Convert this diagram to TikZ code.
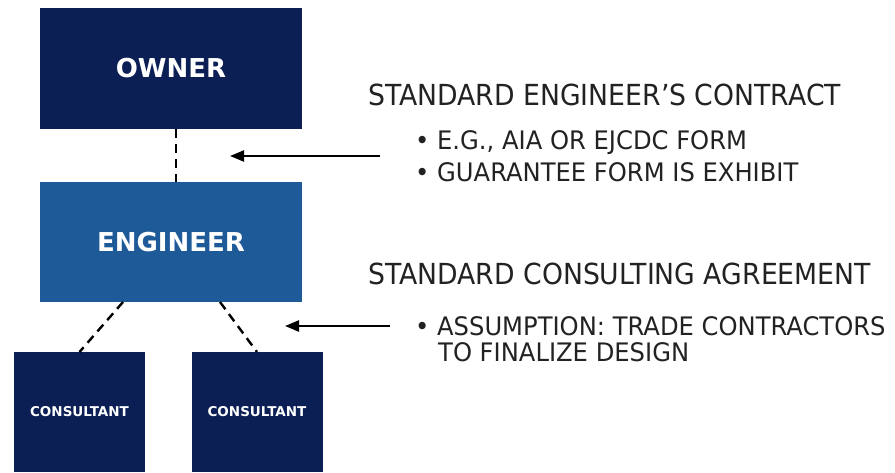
\documentclass[tikz,border=0pt]{standalone}
\usepackage{fontspec}
\setmainfont{DejaVu Sans}
\newfontfamily\notefont[FakeStretch=0.92]{DejaVu Sans}
\newfontfamily\itemfont[FakeStretch=0.95]{DejaVu Sans}
\usetikzlibrary{arrows.meta}
\definecolor{navy}{HTML}{0B1F55}
\definecolor{steel}{HTML}{1E5A98}
\definecolor{ink}{HTML}{222222}

\begin{document}
\begin{tikzpicture}[x=1pt,y=-1pt,
    box/.style={rectangle,inner sep=0pt,outer sep=0pt,text=white,font=\bfseries\fontsize{26}{30}\selectfont},
    smallbox/.style={box,fill=navy,minimum width=131pt,minimum height=120pt,font=\bfseries\fontsize{13.5}{16}\selectfont},
    link/.style={line width=2.4pt,dash pattern=on 9pt off 6pt},
    pointer/.style={line width=2.3pt,-{Triangle[length=14pt,width=11pt]}},
    head/.style={anchor=base west,inner sep=0pt,text=ink,font=\notefont\fontsize{29}{34}\selectfont},
    item/.style={anchor=base west,inner sep=0pt,text=ink,font=\itemfont\fontsize{25.5}{30}\selectfont}]
  \useasboundingbox (0,0) rectangle (895,472);
  % boxes
  \node[box,fill=navy,minimum width=262pt,minimum height=121pt] (owner) at (171,68.5) {OWNER};
  \node[box,fill=steel,minimum width=262pt,minimum height=120pt] (engineer) at (171,242) {ENGINEER};
  \node[smallbox] (cons1) at (79.5,412) {CONSULTANT};
  \node[smallbox] (cons2) at (257,412) {CONSULTANT};
  \draw[link] ([xshift=5pt]owner.south) -- ([xshift=5pt]engineer.north);
  \draw[link] ([xshift=-48pt]engineer.south) -- (cons1.north);
  \draw[link] ([xshift=49pt]engineer.south) -- (cons2.north);
  % notes
  \node[head] (contract) at (368,105) {STANDARD ENGINEER’S CONTRACT};
  \node[item] (form) at (415,149) {• E.G., AIA OR EJCDC FORM};
  \node[item] (guarantee) at (415,181) {• GUARANTEE FORM IS EXHIBIT};
  \node[head] (consulting) at (368,284) {STANDARD CONSULTING AGREEMENT};
  \node[item] (assume) at (415,335) {• ASSUMPTION: TRADE CONTRACTORS};
  \node[item] (finalize) at (438,361) {TO FINALIZE DESIGN};
  \coordinate (c1) at (380,156);
  \coordinate (t1) at (230,156);
  \coordinate (c2) at (390,326);
  \coordinate (t2) at (285,326);
  \draw[pointer] (c1) -- (t1);
  \draw[pointer] (c2) -- (t2);
\end{tikzpicture}
\end{document}
